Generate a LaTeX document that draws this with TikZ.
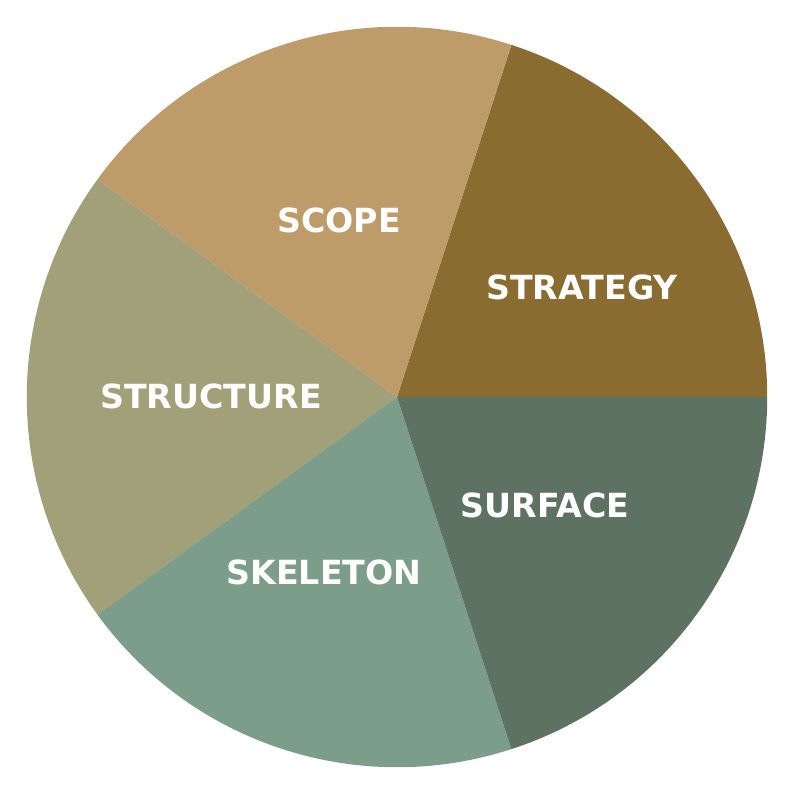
\documentclass[tikz,border=0pt]{standalone}
\usepackage{fontspec}
\setmainfont{DejaVu Sans}
\usetikzlibrary{positioning}
\definecolor{strategycol}{HTML}{8A6C31}
\definecolor{scopecol}{HTML}{BE9C69}
\definecolor{structurecol}{HTML}{A1A079}
\definecolor{skeletoncol}{HTML}{7C9D8A}
\definecolor{surfacecol}{HTML}{5E7262}

\begin{document}
\begin{tikzpicture}[x=0.01cm, y=0.01cm,
    plane/.style={text=white, font=\bfseries\fontsize{9.45}{11}\selectfont}]
    \useasboundingbox (0,0) rectangle (800,800);
    \coordinate (c) at (397,403);

    % slices
    \foreach \col [count=\i from 0] in {strategycol, scopecol, structurecol, skeletoncol, surfacecol}
        \fill[\col] (c) -- ++(\i*72:3.7cm) arc[start angle=\i*72, end angle=\i*72+72, radius=3.7cm] -- cycle;

    % labels
    \node[plane] (strategy) at (582,513) {STRATEGY};
    \node[plane] (scope) at (339,580) {SCOPE};
    \node[plane] (structure) at (211,404) {STRUCTURE};
    \node[plane] (skeleton) at (324,228) {SKELETON};
    \node[plane] (surface) at (545,295) {SURFACE};
\end{tikzpicture}
\end{document}
